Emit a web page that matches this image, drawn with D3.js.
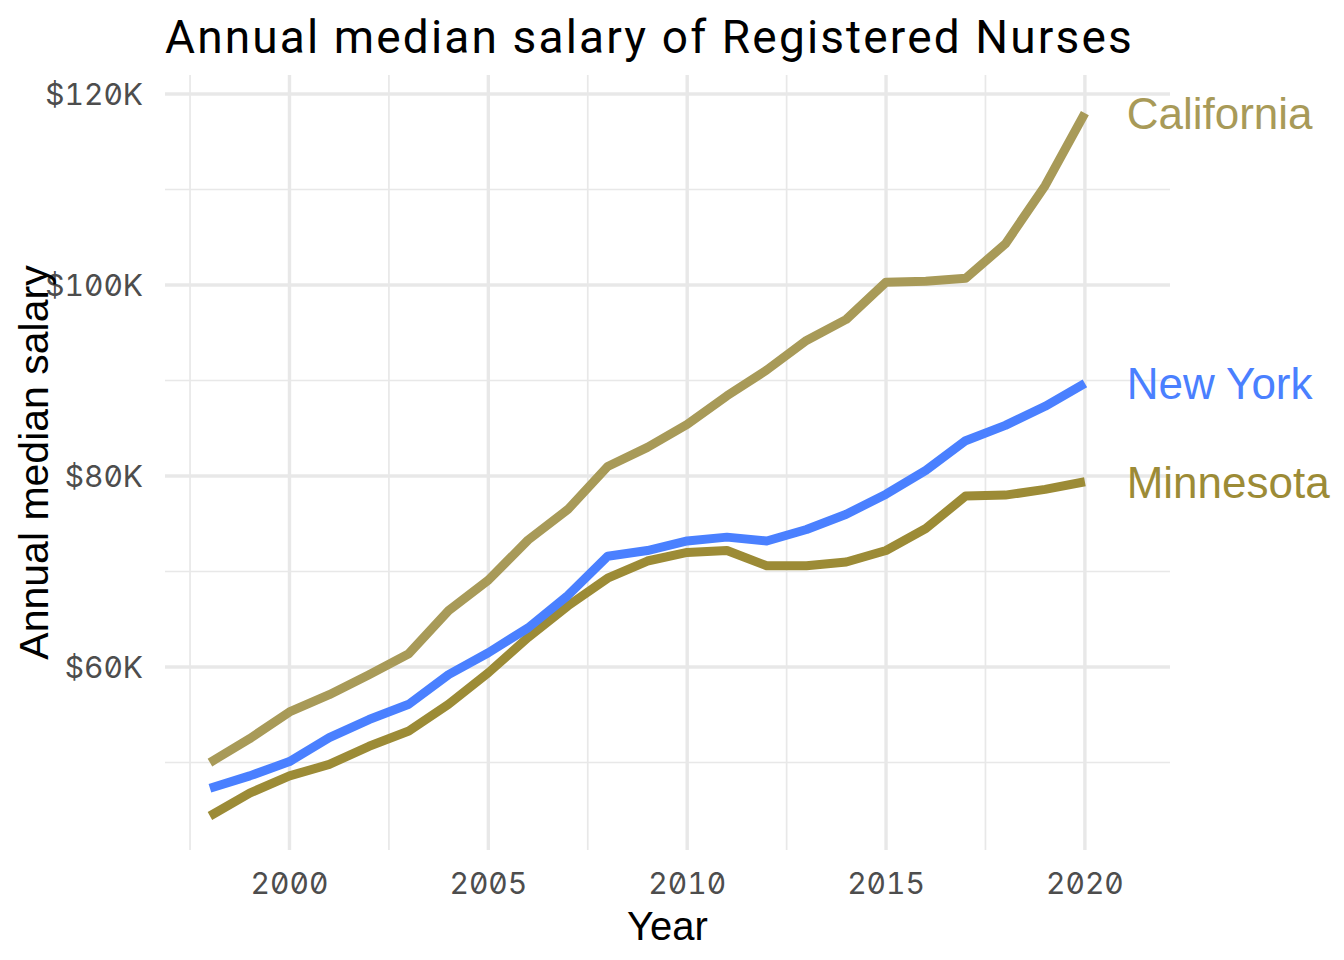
<!DOCTYPE html>
<html>
<head>
<meta charset="utf-8">
<script src="https://cdn.jsdelivr.net/npm/d3@7"></script>
<style>
  body { margin: 0; background: #fff; }
  .tick-lab { font-family: Inter, sans-serif; font-feature-settings: "zero" 1, "tnum" 1; font-size: 30px; fill: #4d4d4d; }
</style>
</head>
<body>
<script>
// chart data
var years = d3.range(1998, 2021);
var california = [50.0, 52.5, 55.3, 57.1, 59.2, 61.4, 65.9, 69.1, 73.3, 76.5, 81.0, 83.0, 85.4,
  88.4, 91.1, 94.2, 96.4, 100.3, 100.4, 100.7, 104.3, 110.4, 118.0];
var newYork = [47.3, 48.6, 50.1, 52.6, 54.5, 56.1, 59.2, 61.5, 64.1, 67.5, 71.6, 72.2, 73.2,
  73.6, 73.2, 74.4, 76.0, 78.1, 80.6, 83.7, 85.3, 87.3, 89.7];
var minnesota = [44.4, 46.8, 48.6, 49.8, 51.7, 53.3, 56.1, 59.4, 63.1, 66.4, 69.3, 71.1, 72.0,
  72.2, 70.6, 70.6, 71.0, 72.2, 74.5, 77.9, 78.0, 78.6, 79.4];
var states = ['California', 'Minnesota', 'New York'];
var colors = {'California': '#a89a58', 'Minnesota': '#9c8b36', 'New York': '#4a80ff'};
var xTicks = [2000, 2005, 2010, 2015, 2020];
var xMinor = [1997.5, 2002.5, 2007.5, 2012.5, 2017.5];
var yTicks = [60, 80, 100, 120];
var yMinor = [50, 70, 90, 110];

var width = 1344;
var height = 960;
var svg = d3.select('body').append('svg')
  .attr('width', width)
  .attr('height', height);

var pLeft = 165, pRight = 1170, pTop = 75, pBottom = 850;

var x = d3.scaleLinear().domain([1996.87, 2022.14]).range([pLeft, pRight]);
var y = d3.scaleLinear().domain([40.84, 121.99]).range([pBottom, pTop]);

//grid lines
var grid = svg.append('g');
grid.selectAll('.ymin').data(yMinor).enter().append('line')
  .attr('x1', pLeft).attr('x2', pRight)
  .attr('y1', function(d){return y(d);}).attr('y2', function(d){return y(d);})
  .style('stroke', '#e8e8e8').style('stroke-width', 1.7);
grid.selectAll('.xmin').data(xMinor).enter().append('line')
  .attr('y1', pTop).attr('y2', pBottom)
  .attr('x1', function(d){return x(d);}).attr('x2', function(d){return x(d);})
  .style('stroke', '#e8e8e8').style('stroke-width', 1.7);
grid.selectAll('.ymaj').data(yTicks).enter().append('line')
  .attr('x1', pLeft).attr('x2', pRight)
  .attr('y1', function(d){return y(d);}).attr('y2', function(d){return y(d);})
  .style('stroke', '#e8e8e8').style('stroke-width', 3.4);
grid.selectAll('.xmaj').data(xTicks).enter().append('line')
  .attr('y1', pTop).attr('y2', pBottom)
  .attr('x1', function(d){return x(d);}).attr('x2', function(d){return x(d);})
  .style('stroke', '#e8e8e8').style('stroke-width', 3.4);

//tick labels
svg.selectAll('.ylab').data(yTicks).enter().append('text')
  .attr('class', 'tick-lab')
  .attr('x', 143)
  .attr('y', function(d){return y(d);})
  .attr('dy', '0.36em')
  .attr('text-anchor', 'end')
  .text(function(d){return '$' + d + 'K';});
svg.selectAll('.xlab').data(xTicks).enter().append('text')
  .attr('class', 'tick-lab')
  .attr('x', function(d){return x(d);})
  .attr('y', 894)
  .attr('text-anchor', 'middle')
  .text(function(d){return d;});

//lines
var series = {'California': california, 'Minnesota': minnesota, 'New York': newYork};
var line = d3.line()
  .x(function(d, i){return x(years[i]);})
  .y(function(d){return y(d);});

states.forEach(function(s){
  svg.append('path')
    .datum(series[s])
    .attr('d', line)
    .style('fill', 'none')
    .style('stroke', colors[s])
    .style('stroke-width', 9)
    .style('stroke-linejoin', 'round')
    .style('stroke-linecap', 'butt');
  var vals = series[s];
  svg.append('text')
    .attr('x', x(2021.05))
    .attr('y', y(vals[vals.length - 1]))
    .attr('dy', '0.36em')
    .style('font-family', '"Liberation Sans", Arial, sans-serif')
    .style('font-size', '44px')
    .style('fill', colors[s])
    .text(s);
});

//titles
svg.append('text')
  .attr('x', (pLeft + pRight) / 2)
  .attr('y', 940)
  .attr('text-anchor', 'middle')
  .style('font-family', '"Liberation Sans", Arial, sans-serif')
  .style('font-size', '40px')
  .style('fill', '#000')
  .text('Year');

svg.append('text')
  .attr('transform', 'translate(48,' + ((pTop + pBottom) / 2) + ') rotate(-90)')
  .attr('text-anchor', 'middle')
  .style('font-family', '"Liberation Sans", Arial, sans-serif')
  .style('font-size', '41px')
  .style('fill', '#000')
  .text('Annual median salary');

svg.append('text')
  .attr('x', 165)
  .attr('y', 53)
  .style('font-family', 'Roboto, sans-serif')
  .style('font-size', '46px')
  .style('letter-spacing', '2.15px')
  .style('fill', '#000')
  .text('Annual median salary of Registered Nurses');
</script>
</body>
</html>
